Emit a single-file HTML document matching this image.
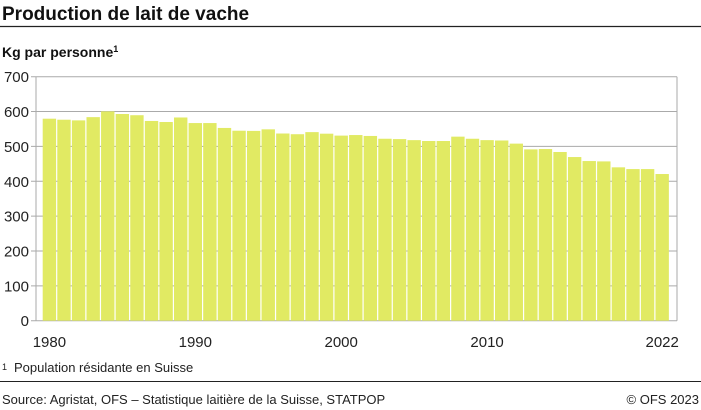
<!DOCTYPE html>
<html><head><meta charset="utf-8"><style>
body{margin:0;background:#fff;}
svg{display:block;font-family:"Liberation Sans",sans-serif;}
</style></head><body>
<svg width="701" height="410" viewBox="0 0 701 410" xmlns="http://www.w3.org/2000/svg">
<text x="2" y="20" font-size="19" font-weight="bold" fill="#111">Production de lait de vache</text>
<line x1="0" y1="26.5" x2="701" y2="26.5" stroke="#222" stroke-width="1.2"/>
<text x="2" y="57" font-size="14" font-weight="bold" fill="#111">Kg par personne<tspan font-size="9" dy="-5">1</tspan></text>
<g id="grid" stroke="#aaa" stroke-width="1"></g>
<g id="bars"></g>
<g id="ylab" font-size="15" fill="#222" text-anchor="end"></g>
<g id="xlab" font-size="15" fill="#222" text-anchor="middle"></g>
<text x="2" y="370" font-size="9" fill="#222">1</text>
<text x="14" y="372" font-size="13" fill="#222">Population résidante en Suisse</text>
<line x1="0" y1="381.5" x2="701" y2="381.5" stroke="#222" stroke-width="1"/>
<text x="2" y="404" font-size="13" fill="#222">Source: Agristat, OFS – Statistique laitière de la Suisse, STATPOP</text>
<text x="699" y="404" font-size="13" fill="#222" text-anchor="end">© OFS 2023</text>
</svg>
<script>
(function(){
var ns="http://www.w3.org/2000/svg";
var vals=[579.5,576.6,574.7,584,600.5,593,589.5,573,570,583,567,567,553,545,544.5,549,537,535,541,536.5,531,532.6,530,522,521,518,515.5,515.5,528,522,518,517,508,491.5,492.5,484,469.5,458,457,440,435,435,420.8];
var yT=76.7,yB=320.7,L=36,R=677,k=(yB-yT)/700;
function el(t,a,p){var e=document.createElementNS(ns,t);for(var x in a)e.setAttribute(x,a[x]);document.getElementById(p).appendChild(e);return e;}
for(var v=0;v<=700;v+=100){var y=yB-v*k;
el("line",{x1:31,y1:y,x2:R,y2:y},"grid");
var t=el("text",{x:29,y:y+5.5},"ylab");t.textContent=v;}
el("line",{x1:L,y1:yT,x2:L,y2:yB},"grid");
el("line",{x1:R,y1:yT,x2:R,y2:yB},"grid");
var step=14.59,x0=42.7;
vals.forEach(function(v,i){var h=v*k;
el("rect",{x:x0+i*step,y:yB-h,width:step-1.2,height:h,fill:"#e1ea63"},"bars");});
[[0,"1980"],[10,"1990"],[20,"2000"],[30,"2010"],[42,"2022"]].forEach(function(a){
var t=el("text",{x:x0+a[0]*step+6.7,y:347},"xlab");t.textContent=a[1];});
})();
</script>
</body></html>
